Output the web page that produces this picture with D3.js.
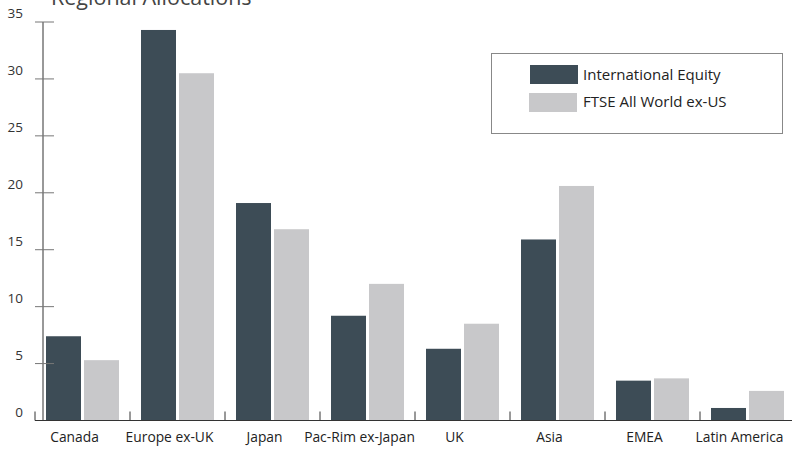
<!DOCTYPE html>
<html>
<head>
<meta charset="utf-8">
<script src="https://cdn.jsdelivr.net/npm/d3@7"></script>
<style>
  body { margin: 0; background: #fff; }
  text { font-family: "Open Sans", "Noto Sans", sans-serif; }
</style>
</head>
<body>
<div id="chart"></div>
<script>
// data
const categories = ["Canada", "Europe ex-UK", "Japan", "Pac-Rim ex-Japan", "UK", "Asia", "EMEA", "Latin America"];
const seriesNames = ["International Equity", "FTSE All World ex-US"];
const intlEquity = [7.4, 34.3, 19.1, 9.2, 6.3, 15.9, 3.5, 1.1];
const ftseWorld = [5.3, 30.5, 16.8, 12.0, 8.5, 20.6, 3.7, 2.6];
const yTicks = [0, 5, 10, 15, 20, 25, 30, 35];

const W = 792, H = 449;
const colors = ["#3d4c56", "#c8c8ca"];

const svg = d3.select("#chart")
  .append("svg")
    .attr("width", W)
    .attr("height", H);

// scales
const x = d3.scaleBand()
  .domain(categories)
  .range([35, 795]);

const y = d3.scaleLinear()
  .domain([0, 35])
  .range([420.5, 22]);

// title (cut off at the top)
svg.append("text")
  .attr("x", 51)
  .attr("y", 5)
  .attr("font-size", "21.5px")
  .attr("fill", "#444")
  .text("Regional Allocations");

// bars
const series = [intlEquity, ftseWorld];
series.forEach((vals, i) => {
  svg.selectAll(null)
    .data(categories)
    .enter()
    .append("rect")
      .attr("x", d => x(d) + 11 + i * 38)
      .attr("y", (d, j) => y(vals[j]))
      .attr("width", 35)
      .attr("height", (d, j) => y(0) - y(vals[j]))
      .attr("fill", colors[i]);
});

// y axis
svg.append("line")
  .attr("x1", 43).attr("x2", 43)
  .attr("y1", y(35)).attr("y2", y(0))
  .attr("stroke", "#333")
  .attr("stroke-width", 1);

svg.selectAll(null)
  .data(yTicks.filter(d => d > 0))
  .enter()
  .append("line")
    .attr("x1", 35).attr("x2", 54)
    .attr("y1", d => y(d)).attr("y2", d => y(d))
    .attr("stroke", "#777")
    .attr("stroke-width", 1);

svg.selectAll(null)
  .data(yTicks)
  .enter()
  .append("text")
    .attr("x", 23)
    .attr("y", d => y(d) - 4)
    .attr("text-anchor", "end")
    .attr("font-size", "13.5px")
    .attr("fill", "#333")
    .text(d => d);

// x axis
svg.append("line")
  .attr("x1", 35).attr("x2", W)
  .attr("y1", y(0)).attr("y2", y(0))
  .attr("stroke", "#333")
  .attr("stroke-width", 1.2);

svg.selectAll(null)
  .data(categories)
  .enter()
  .append("line")
    .attr("x1", d => x(d)).attr("x2", d => x(d))
    .attr("y1", y(0)).attr("y2", y(0) - 9)
    .attr("stroke", "#333")
    .attr("stroke-width", 1);

svg.selectAll(null)
  .data(categories)
  .enter()
  .append("text")
    .attr("x", d => x(d) + x.bandwidth() / 2 - 8)
    .attr("y", 442)
    .attr("text-anchor", "middle")
    .attr("font-size", "13.8px")
    .attr("fill", "#222")
    .text(d => d);

// legend
const legend = svg.append("g");
legend.append("rect")
  .attr("x", 491.5).attr("y", 53.5)
  .attr("width", 291).attr("height", 80)
  .attr("fill", "#fff")
  .attr("stroke", "#888")
  .attr("stroke-width", 1);

seriesNames.forEach((name, i) => {
  legend.append("rect")
    .attr("x", 530 - i)
    .attr("y", 65 + i * 28)
    .attr("width", 48)
    .attr("height", 19)
    .attr("fill", colors[i]);
  legend.append("text")
    .attr("x", 583)
    .attr("y", 80 + i * 27)
    .attr("font-size", "15px")
    .attr("fill", "#222")
    .text(name);
});
</script>
</body>
</html>
